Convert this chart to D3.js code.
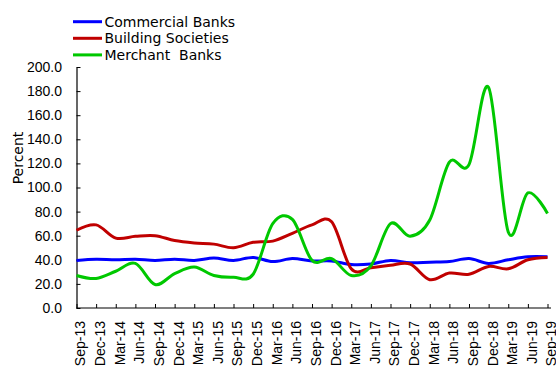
<!DOCTYPE html>
<html>
<head>
<meta charset="utf-8">
<script src="https://cdn.jsdelivr.net/npm/d3@7"></script>
<style>
  html, body { margin: 0; padding: 0; background: #fff; }
  svg { display: block; font-family: "DejaVu Sans", Verdana, sans-serif; }
  text { fill: #000; }
</style>
</head>
<body>
<svg id="chart" width="556" height="369"></svg>
<script>
// Quarterly observations, Sep-13 .. Sep-19
const quarters = ["Sep-13","Dec-13","Mar-14","Jun-14","Sep-14","Dec-14","Mar-15","Jun-15",
  "Sep-15","Dec-15","Mar-16","Jun-16","Sep-16","Dec-16","Mar-17","Jun-17","Sep-17","Dec-17",
  "Mar-18","Jun-18","Sep-18","Dec-18","Mar-19","Jun-19","Sep-19"];

const commercialBanks = [39.5,40.5,40,40.5,39.5,40.5,39.5,41.5,39.5,42,38.5,41,39,39,36,36.5,
  39.5,37.5,38,38.5,41,37,40,42.5,42.5];
const buildingSocieties = [64.5,69,58,59.5,60,56,54,53,50,54.5,55.5,62,69,71.5,32.5,33.5,
  35.5,36.5,23.5,29,28,34.5,32.5,40,42];
const merchantBanks = [27,24.5,30.5,37,19.5,28.5,34,27,25.5,28,70,73.5,39.5,41,27,35,
  70,59.5,73,121,119,183,63,95.5,78.5];

const yTicks = [0,20,40,60,80,100,120,140,160,180,200];

const seriesNames = ["Commercial Banks","Building Societies","Merchant  Banks"];
const seriesColors = ["#0000ff","#c00000","#00c800"];
const seriesData = [commercialBanks, buildingSocieties, merchantBanks];

const svg = d3.select("#chart");

const x = d3.scalePoint().domain(quarters).range([76.5, 547.5]);
const y = d3.scaleLinear().domain([0, 200]).range([308, 67]);

// y axis: ticks point inward
const yAxis = svg.append("g")
  .attr("transform", "translate(76.5,0)")
  .call(d3.axisLeft(y).tickValues(yTicks).tickFormat(d3.format(".1f"))
    .tickSizeInner(-4).tickSizeOuter(0).tickPadding(14.5));
yAxis.select(".domain").attr("stroke", "#000").attr("stroke-width", 1.2);
yAxis.selectAll(".tick line").attr("stroke", "#000");
yAxis.selectAll("text").style("font-size", "14px").attr("fill", "#000");

// x axis: ticks on each quarter, labels rotated
const xAxis = svg.append("g")
  .attr("transform", "translate(0,308)")
  .call(d3.axisBottom(x).tickSizeInner(-4).tickSizeOuter(0));
xAxis.select(".domain").attr("stroke", "#000").attr("stroke-width", 1.2)
  .attr("d", "M76.5,0H551");
xAxis.selectAll(".tick line").attr("stroke", "#000");
xAxis.selectAll("text")
  .style("font-size", "14px").attr("fill", "#000")
  .attr("transform", "rotate(-90)")
  .attr("text-anchor", "end")
  .attr("x", -13)
  .attr("y", 3.5)
  .attr("dy", "0.35em");

// axis title
svg.append("text")
  .attr("transform", "translate(23,158) rotate(-90)")
  .attr("text-anchor", "middle")
  .style("font-size", "14px")
  .text("Percent");

// series lines, smoothed
const line = d3.line()
  .x((d, i) => x(quarters[i]))
  .y(d => y(d))
  .curve(d3.curveCardinal.tension(0));

seriesData.forEach((vals, k) => {
  svg.append("path")
    .datum(vals)
    .attr("fill", "none")
    .attr("stroke", seriesColors[k])
    .attr("stroke-width", 3)
    .attr("stroke-linejoin", "round")
    .attr("d", line);
});

// legend
const legend = svg.append("g");
seriesNames.forEach((name, k) => {
  const ly = 21.7 + k * 16.6;
  legend.append("line")
    .attr("x1", 73).attr("x2", 102)
    .attr("y1", ly).attr("y2", ly)
    .attr("stroke", seriesColors[k]).attr("stroke-width", 3);
  legend.append("text")
    .attr("x", 104.5).attr("y", ly)
    .attr("dy", "0.35em")
    .style("font-size", "14px")
    .style("white-space", "pre")
    .attr("xml:space", "preserve")
    .text(name);
});
</script>
</body>
</html>
